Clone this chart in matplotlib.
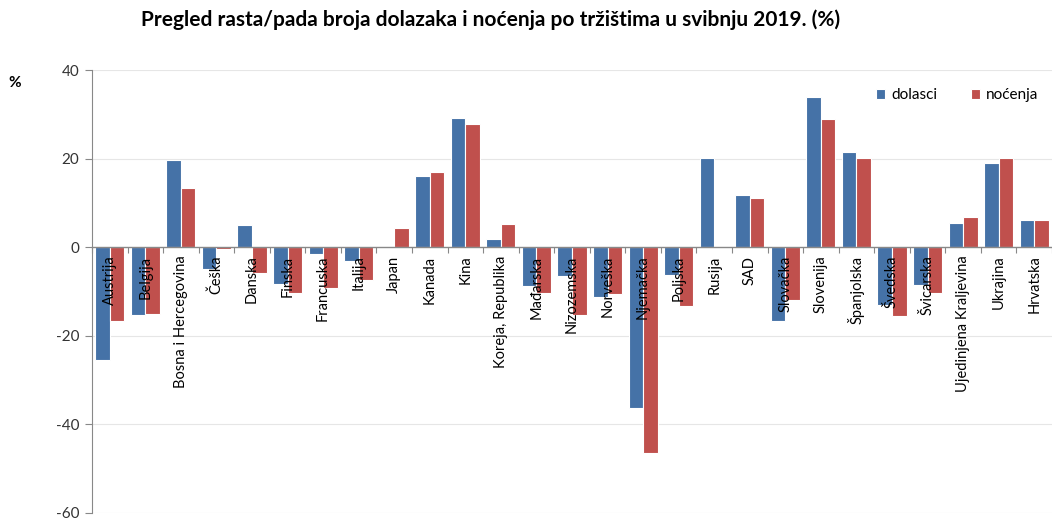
import matplotlib
matplotlib.use("Agg")
import matplotlib.pyplot as plt
import numpy as np

categories = ["Austrija", "Belgija", "Bosna i Hercegovina", "Češka", "Danska", "Finska",
              "Francuska", "Italija", "Japan", "Kanada", "Kina", "Koreja, Republika",
              "Mađarska", "Nizozemska", "Norveška", "Njemačka", "Poljska", "Rusija", "SAD",
              "Slovačka", "Slovenija", "Španjolska", "Švedska", "Švicarska",
              "Ujedinjena Kraljevina", "Ukrajina", "Hrvatska"]
dolasci = [-25.5, -15.4, 19.7, -5.0, 5.1, -8.4, -1.5, -3.2, 0.0, 16.0, 29.1, 1.9,
           -8.8, -6.4, -11.2, -36.4, -6.2, 20.1, 11.8, -16.6, 33.9, 21.5, -13.0, -8.5,
           5.5, 18.9, 6.1]
nocenja = [-16.6, -15.1, 13.3, -0.5, -5.8, -10.4, -9.2, -7.5, 4.3, 16.9, 27.7, 5.2,
           -10.3, -15.2, -10.6, -46.5, -13.3, 0.0, 11.2, -11.9, 28.9, 20.1, -15.5, -10.3,
           6.8, 20.2, 6.1]
yticks = [-60, -40, -20, 0, 20, 40]

plt.rcParams['font.family'] = ['Lato', 'DejaVu Sans']

fig = plt.figure(figsize=(10.52, 5.21), dpi=100)
ax = fig.add_axes([92/1052, 1 - 513/521, 1 - 92/1052, (513 - 70)/521])

x = np.arange(len(categories))
w = 0.41
blue = '#4572A7'
red = '#C0504D'
ax.bar(x - w/2, dolasci, w, color=blue, edgecolor='white', linewidth=0.8, label='dolasci', zorder=3)
ax.bar(x + w/2, nocenja, w, color=red, edgecolor='white', linewidth=0.8, label='noćenja', zorder=3)

ax.set_xlim(-0.5, 26.3)
ax.set_ylim(-60, 40)
ax.set_yticks(yticks)
ax.set_yticklabels([str(v) for v in yticks], fontsize=11, color='#333333')
for v in yticks:
    if v != 0:
        ax.axhline(v, color='#E6E6E6', linewidth=0.8, zorder=0)

for s in ['top', 'right']:
    ax.spines[s].set_visible(False)
ax.spines['left'].set_color('#888888')
ax.spines['bottom'].set_position(('data', 0))
ax.spines['bottom'].set_color('#888888')
ax.spines['bottom'].set_linewidth(1.0)
ax.spines['bottom'].set_zorder(4)
ax.tick_params(axis='y', length=5, color='#888888', pad=4)

ax.set_xticks(np.arange(-0.5, 27, 1))
ax.set_xticklabels([])
ax.tick_params(axis='x', length=4, color='#888888', direction='out')

for xi, name in zip(x, categories):
    ax.annotate(name, xy=(xi, 0), xytext=(0, -6), textcoords='offset points',
                rotation=90, ha='center', va='top', fontsize=10.5, color='black',
                zorder=6, annotation_clip=False)

ax.legend(loc='upper right', bbox_to_anchor=(1.0, 0.99), ncol=2, frameon=False,
          fontsize=11, handlelength=0.6, handleheight=0.6, columnspacing=2.2,
          handletextpad=0.4)

fig.text(491/1052, 1 - 20/521, 'Pregled rasta/pada broja dolazaka i noćenja po tržištima u svibnju 2019. (%)',
         ha='center', va='center', fontsize=15, fontweight='bold')
fig.text(15/1052, 1 - 83/521, '%', ha='center', va='center', fontsize=11, fontweight='bold')

fig.savefig('out.png', dpi=100)
